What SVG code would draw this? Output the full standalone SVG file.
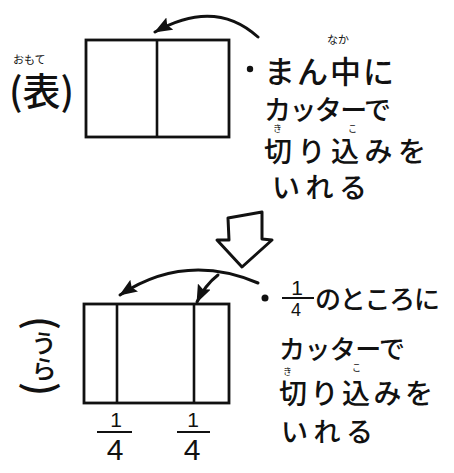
<svg xmlns="http://www.w3.org/2000/svg" width="454" height="473" viewBox="0 0 454 473">
<style>
.box{fill:none;stroke:#111;stroke-width:2.8}
.ln{stroke:#111;stroke-width:2.6;fill:none}
.conn{stroke:#111;stroke-width:3;fill:none;stroke-linecap:round}
.t{font-family:"Noto Sans CJK JP","Noto Sans CJK SC",sans-serif;fill:#111;font-weight:500}
.r{font-family:"Noto Sans CJK JP","Noto Sans CJK SC",sans-serif;fill:#111}
.n{font-family:"Liberation Sans",Arial,sans-serif;fill:#111}
.fl{stroke:#111;stroke-width:2}
</style>
<defs>
<marker id="ah" markerUnits="userSpaceOnUse" viewBox="0 0 18 14" refX="17" refY="7" markerWidth="18" markerHeight="14" orient="auto">
<path d="M0,0 L18,7 L0,14 L3,7 Z" fill="#111"/>
</marker>
</defs>
<rect width="454" height="473" fill="#fff"/>

<g id="front-card">
<rect class="box" x="86" y="40" width="143" height="97"/>
<line class="ln" x1="157" y1="40" x2="157" y2="137"/>
</g>

<g id="front-label">
<text class="r" x="13" y="64" font-size="11">おもて</text>
<text class="t" x="9" y="105" font-size="38">(表)</text>
</g>

<g id="front-note">
<circle cx="250" cy="69" r="3.2" fill="#111"/>
<text class="r" x="327" y="44" font-size="11">なか</text>
<text class="t" x="264" y="83" font-size="31" textLength="130">まん中に</text>
<text class="t" x="264" y="120" font-size="27" textLength="127">カッターで</text>
<text class="r" x="273" y="132" font-size="9">き</text>
<text class="r" x="348" y="132" font-size="9">こ</text>
<text class="t" x="264" y="162" font-size="28" textLength="162">切り込みを</text>
<text class="t" x="272" y="198" font-size="28" textLength="95">いれる</text>
</g>

<g id="down-arrow">
<polygon points="228,218 262,212 262,239 272,240 242,267 217,240 229,240" fill="#fff" stroke="#111" stroke-width="3" stroke-linejoin="round"/>
</g>

<g id="back-card">
<rect class="box" x="84" y="304" width="145" height="99"/>
<line class="ln" x1="117" y1="304" x2="117" y2="403"/>
<line class="ln" x1="194" y1="304" x2="194" y2="403"/>
</g>

<g id="back-label">
<text class="t" x="44" y="316" writing-mode="vertical-rl"><tspan font-size="40">(</tspan><tspan font-size="26">うら</tspan><tspan font-size="40">)</tspan></text>
</g>

<g id="quarter-marks">
<text class="n" x="116" y="427" font-size="21" text-anchor="middle">1</text>
<line class="fl" x1="97" y1="432" x2="132" y2="432"/>
<text class="n" x="115" y="460" font-size="30" text-anchor="middle">4</text>
<text class="n" x="193" y="427" font-size="21" text-anchor="middle">1</text>
<line class="fl" x1="177" y1="432" x2="210" y2="432"/>
<text class="n" x="192" y="460" font-size="30" text-anchor="middle">4</text>
</g>

<g id="back-note">
<circle cx="265" cy="298" r="3.5" fill="#111"/>
<text class="n" x="297" y="295" font-size="21" text-anchor="middle">1</text>
<line class="fl" x1="282" y1="298" x2="314" y2="298"/>
<text class="n" x="296" y="316" font-size="18" text-anchor="middle">4</text>
<text class="t" x="315" y="309" font-size="26" textLength="125">のところに</text>
<text class="t" x="279" y="359" font-size="26" textLength="126">カッターで</text>
<text class="r" x="283" y="375" font-size="9">き</text>
<text class="r" x="352" y="371" font-size="9">こ</text>
<text class="t" x="279" y="404" font-size="28" textLength="154">切り込みを</text>
<text class="t" x="281" y="442" font-size="27" textLength="92">いれる</text>
</g>

<g id="connectors">
<path class="conn" d="M258,37 Q215,-2 155,32" marker-end="url(#ah)"/>
<path class="conn" d="M258,283 Q185,252 120,295" marker-end="url(#ah)"/>
<path class="conn" d="M218,275 Q205,285 197,302" marker-end="url(#ah)"/>
</g>
</svg>
